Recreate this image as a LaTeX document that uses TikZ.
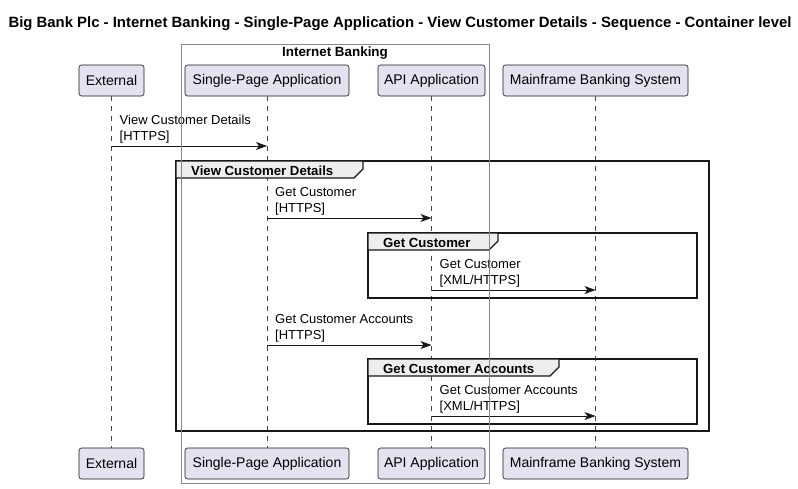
\documentclass[tikz,border=0pt]{standalone}
\usepackage{fontspec}
\setmainfont{Liberation Sans}
\usetikzlibrary{arrows.meta}
\definecolor{partfill}{HTML}{E2E2F0}
\definecolor{partdraw}{HTML}{181818}
\definecolor{tabfill}{HTML}{EEEEEE}
\definecolor{boxdraw}{HTML}{888888}
\tikzset{
  part/.style={draw=partdraw, fill=partfill, rounded corners=2.5pt, line width=0.6pt,
    minimum height=31pt, inner sep=0pt, font=\fontsize{14}{16}\selectfont},
  life/.style={draw=partdraw!80, dash pattern=on 5pt off 5pt, line width=0.5pt},
  msg/.style={draw=partdraw, line width=0.9pt, -{Stealth[length=11pt,width=8pt,inset=3pt]}},
  lbl/.style={font=\fontsize{13}{16}\selectfont, align=left, anchor=south west, inner sep=0pt},
  grpframe/.style={draw=partdraw, line width=1.6pt},
  grptab/.style={draw=partdraw, fill=tabfill, line width=1.1pt},
  grplbl/.style={font=\bfseries\fontsize{13.2}{15}\selectfont, anchor=base west, inner sep=0pt},
}
\begin{document}
\begin{tikzpicture}[x=1pt,y=-1pt]
\useasboundingbox[fill=white] (0,0) rectangle (798,488);

% title
\node[font=\bfseries\fontsize{14.9}{17}\selectfont] (title) at (400,24) {Big Bank Plc - Internet Banking - Single-Page Application - View Customer Details - Sequence - Container level};

% participants top
\node[part, minimum width=65pt] (ext) at (111.5,80.5) {External};
\node[part, minimum width=164pt] (spa) at (267,80.5) {Single-Page Application};
\node[part, minimum width=107pt] (api) at (431.5,80.5) {API Application};
\node[part, minimum width=185pt] (mfs) at (595.5,80.5) {Mainframe Banking System};
% participants bottom
\node[part, minimum width=65pt] (extb) at (111.5,463.5) {External};
\node[part, minimum width=164pt] (spab) at (267,463.5) {Single-Page Application};
\node[part, minimum width=107pt] (apib) at (431.5,463.5) {API Application};
\node[part, minimum width=185pt] (mfsb) at (595.5,463.5) {Mainframe Banking System};

% lifelines
\draw[life] (ext.south) -- (extb.north);
\draw[life] (spa.south) -- (spab.north);
\draw[life] (api.south) -- (apib.north);
\draw[life] (mfs.south) -- (mfsb.north);

% message 1
\coordinate (m1s) at (ext.south |- 0,146);
\coordinate (m1e) at (spa.south |- 0,146);
\draw[msg] (m1s) -- (m1e);
\node[lbl] (m1l) at ([xshift=8pt,yshift=3pt]m1s) {View Customer Details\\{[HTTPS]}};

% group View Customer Details
\draw[grpframe] (176,161) rectangle (709,431);
\draw[grptab] (176,161) -- (363,161) -- (363,169) -- (354,178) -- (176,178) -- cycle;
\node[grplbl] (g1) at (191,175.5) {View Customer Details};

% message 2
\coordinate (m2s) at (spa.south |- 0,218);
\coordinate (m2e) at (api.south |- 0,218);
\draw[msg] (m2s) -- (m2e);
\node[lbl] (m2l) at ([xshift=8pt,yshift=3pt]m2s) {Get Customer\\{[HTTPS]}};

% group Get Customer
\draw[grpframe] (368,233) rectangle (697,298);
\draw[grptab] (368,233) -- (498,233) -- (498,241) -- (489,250) -- (368,250) -- cycle;
\node[grplbl] (g2) at (383,247.5) {Get Customer};

% message 3
\coordinate (m3s) at (api.south |- 0,290);
\coordinate (m3e) at (mfs.south |- 0,290);
\draw[msg] (m3s) -- (m3e);
\node[lbl] (m3l) at ([xshift=8pt,yshift=3pt]m3s) {Get Customer\\{[XML/HTTPS]}};

% message 4
\coordinate (m4s) at (spa.south |- 0,345);
\coordinate (m4e) at (api.south |- 0,345);
\draw[msg] (m4s) -- (m4e);
\node[lbl] (m4l) at ([xshift=8pt,yshift=3pt]m4s) {Get Customer Accounts\\{[HTTPS]}};

% group Get Customer Accounts
\draw[grpframe] (368,359) rectangle (697,424);
\draw[grptab] (368,359) -- (559,359) -- (559,367) -- (550,376) -- (368,376) -- cycle;
\node[grplbl] (g3) at (383,373.5) {Get Customer Accounts};

% message 5
\coordinate (m5s) at (api.south |- 0,416);
\coordinate (m5e) at (mfs.south |- 0,416);
\draw[msg] (m5s) -- (m5e);
\node[lbl] (m5l) at ([xshift=8pt,yshift=3pt]m5s) {Get Customer Accounts\\{[XML/HTTPS]}};

% Internet Banking box
\draw[draw=boxdraw, line width=0.8pt] (181,44) rectangle (489,483);
\node[font=\bfseries\fontsize{13.4}{15}\selectfont] (ib) at (335,53) {Internet Banking};
\end{tikzpicture}
\end{document}
